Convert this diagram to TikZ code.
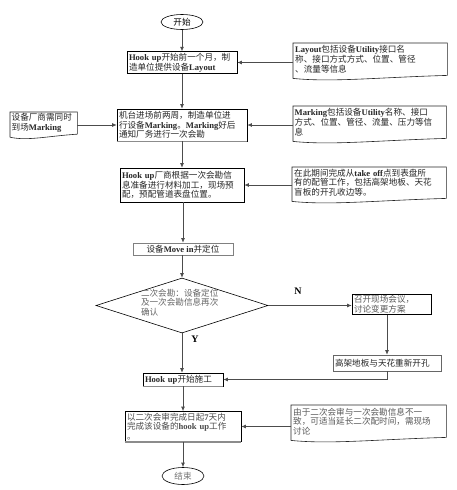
\documentclass[tikz,border=0pt]{standalone}
\usepackage{fontspec}
\setmainfont{Noto Sans CJK SC}
\newfontfamily\latf{Liberation Serif}
\newcommand\lt[1]{{\latf\bfseries #1}}
\usetikzlibrary{arrows.meta,calc,shapes.geometric}
\tikzset{
  box/.style={draw=black, line width=0.6pt, inner sep=1.5pt, align=left, text=black!85},
  doc/.style={inner sep=1.5pt, align=left, anchor=north west, text=black!85},
  docline/.style={draw=black!85, line width=0.6pt},
  oval/.style={ellipse, draw=black, line width=0.6pt, inner sep=0pt},
  arr/.style={draw=black!70, line width=0.8pt, -{Latex[length=4.5pt,width=4pt]}},
  lnk/.style={draw=black!70, line width=0.8pt},
  shade/.style={draw=black!45, line width=1.4pt},
  lbl/.style={font=\latf\bfseries\fontsize{10}{11}\selectfont, text=black}
}
\newcommand\docoutline[1]{%
  \draw[docline] ($(#1.south west)+(0,3)$) -- (#1.north west) -- (#1.north east) -- (#1.south east)
    .. controls ($(#1.south east)!0.45!(#1.south west)+(0,2)$) and ($(#1.south east)!0.75!(#1.south west)+(0,7)$)
    .. ($(#1.south west)+(0,3)$) -- cycle;}
\begin{document}
\begin{tikzpicture}[x=1pt,y=-1pt,font=\fontsize{8.6}{9.6}\selectfont]
\useasboundingbox[fill=white] (0,0) rectangle (456,490);

% ovals
\node[oval, minimum width=42pt, minimum height=15pt] (e1) at (182,22) {开始};
\node[oval, minimum width=42pt, minimum height=17pt, text=black!55] (e2) at (183,476) {结束};

% main boxes
\node[box, minimum width=110pt, minimum height=21pt, text width=106pt] (b1) at (182,62.5)
  {\lt{Hook up}开始前一个月，制\\造单位提供设备\lt{Layout}};
\node[box, minimum width=130pt, minimum height=32pt, text width=126pt] (b2) at (182,125)
  {机台进场前两周，制造单位进\\行设备\lt{Marking}。\lt{Marking}好后\\通知厂务进行一次会勘};
\node[box, minimum width=124pt, minimum height=34pt, text width=120pt] (b3) at (182,185)
  {\lt{Hook up}厂商根据一次会勘信\\息准备进行材料加工，现场预\\配，预配管道表盘位置。};
\node[box, draw=black!50, minimum width=100pt, minimum height=12pt, align=center, inner sep=0pt] (b4) at (183,249)
  {设备\lt{Move in}并定位};
\node[diamond, draw=black, line width=0.6pt, minimum width=172pt, minimum height=55pt, inner sep=0pt] (d) at (182,305.5) {};
\node[align=left, text=black!60, text width=84pt, inner sep=0pt] (dt) at (183,302.5)
  {二次会勘：设备定位\\及一次会勘信息再次\\确认};
\node[box, minimum width=79pt, minimum height=19pt, text width=75pt, text=black!65] (b5) at (391.5,304.5)
  {召开现场会议，\\讨论变更方案};
\node[box, draw=black!60, minimum width=108pt, minimum height=16pt, text width=104pt] (b6) at (387,363)
  {高架地板与天花重新开孔};
\node[box, minimum width=80pt, minimum height=13pt, text width=76pt, inner sep=1pt] (b7) at (183,379.5)
  {\lt{Hook up}开始施工};
\node[box, minimum width=116pt, minimum height=29pt, text width=112pt, text=black!70] (b8) at (183,426.5)
  {以二次会审完成日起\lt{7}天内\\完成该设备的\lt{hook up}工作\\。};
\draw[shade] (b2.south west) -- (b2.south east);
\draw[shade] (b7.south west) -- (b7.south east);
\draw[shade] (b8.south west) -- (b8.south east);

% labels
\node[lbl] (ln) at (298,291) {N};
\node[lbl] (ly) at (195,339) {Y};

% documents
\node[doc, minimum width=154pt, minimum height=32pt, text width=150pt] (d1) at (293,43)
  {\lt{Layout}包括设备\lt{Utility}接口名\\称、接口方式方式、位置、管径\\、流量等信息};
\node[doc, minimum width=67pt, minimum height=19pt, text width=64pt] (d2) at (10,112)
  {设备厂商需同时\\到场\lt{Marking}};
\node[doc, minimum width=153pt, minimum height=32pt, text width=150pt] (d3) at (293,106)
  {\lt{Marking}包括设备\lt{Utility}名称、接口\\方式、位置、管径、流量、压力等信\\息};
\node[doc, minimum width=154pt, minimum height=31pt, text width=150pt] (d4) at (292,167)
  {在此期间完成从\lt{take off}点到表盘所\\有的配管工作，包括高架地板、天花\\盲板的开孔收边等。};
\node[doc, minimum width=155pt, minimum height=32pt, text width=151pt, text=black!65] (d5) at (291,405)
  {由于二次会审与一次会勘信息不一\\致，可适当延长二次配时间，需现场\\讨论};
\docoutline{d1}
\docoutline{d2}
\docoutline{d3}
\docoutline{d4}
\docoutline{d5}

% main flow
\draw[arr] (e1) -- (b1);
\draw[arr] (b1) -- (b2);
\draw[arr] (b2) -- (b3);
\draw[arr] (b3.south -| b4.north) -- (b4.north);
\draw[arr] (b4.south -| d.north) -- (d.north);
\draw[arr] (d.south) -- (d.south |- b7.north);
\draw[arr] (b7.south) -- (b8.north);
\draw[arr] (b8.south) -- (e2.north);

% N branch
\draw[arr] (d.east) -- (d.east -| b5.west);
\draw[arr] (b6.north |- b5.south) -- (b6.north);
\draw[arr] (b6.south) -- (b6.south |- b7.east) -- (b7.east);

% side notes
\draw[arr] (d1.west |- b1.east) -- (b1.east);
\draw[arr] (d2.east |- b2.west) -- (b2.west);
\draw[arr] (d3.west |- b2.east) -- (b2.east);
\draw[arr] (d4.west |- b3.east) -- (b3.east);
\draw[arr] (d5.west |- b8.east) -- (b8.east);
\end{tikzpicture}
\end{document}
